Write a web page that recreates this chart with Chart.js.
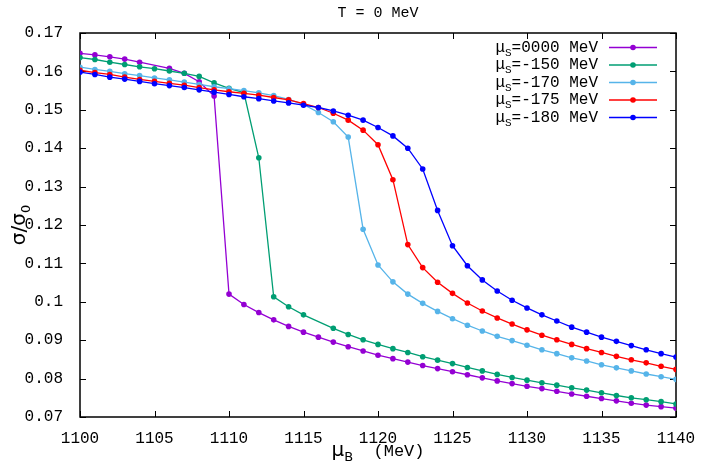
<!DOCTYPE html>
<html>
<head>
<meta charset="utf-8">
<script src="https://cdn.jsdelivr.net/npm/chart.js@4.4.1/dist/chart.umd.min.js"></script>
<style>
  html, body { margin: 0; padding: 0; background: #fff; }
  #wrap { width: 701px; height: 470px; }
</style>
</head>
<body>
<div id="wrap"><canvas id="myChart" width="701" height="470"></canvas></div>
<script>
// mu_B values (MeV)
const muB = [1100, 1101, 1102, 1103, 1104, 1105, 1106, 1107, 1108, 1109,
             1110, 1111, 1112, 1113, 1114, 1115, 1116, 1117, 1118, 1119,
             1120, 1121, 1122, 1123, 1124, 1125, 1126, 1127, 1128, 1129,
             1130, 1131, 1132, 1133, 1134, 1135, 1136, 1137, 1138, 1139, 1140];

// sigma/sigma0 for each mu_S (null = no point in the data)
const sigmaS0 = [0.1647, 0.1643, 0.1638, 0.1632, 0.1624, null, 0.1608, 0.1595, 0.1573, 0.1536,
                 0.1020, 0.0993, 0.0972, 0.0953, 0.0936, 0.0921, 0.0908, 0.0895, 0.0883, 0.0872,
                 0.0861, 0.0852, 0.0843, 0.0834, 0.0826, 0.0818, 0.0810, 0.0802, 0.0794, 0.0787,
                 0.0780, 0.0774, 0.0767, 0.0760, 0.0754, 0.0748, 0.0742, 0.0736, 0.0731, 0.0727, 0.0723];
const sigmaS150 = [0.1636, 0.1631, 0.1624, 0.1618, 0.1612, 0.1607, 0.1601, 0.1595, 0.1587, 0.1570,
                   0.1556, 0.1545, 0.1375, 0.1013, 0.0987, 0.0966, null, 0.0931, 0.0915, 0.0901,
                   0.0889, 0.0878, 0.0868, 0.0857, 0.0848, 0.0839, 0.0829, 0.0820, 0.0811, 0.0803,
                   0.0796, 0.0789, 0.0783, 0.0776, 0.0770, 0.0763, 0.0756, 0.0750, 0.0745, 0.0740, 0.0734];
const sigmaS170 = [0.1611, 0.1605, 0.1600, 0.1594, 0.1589, 0.1583, 0.1578, 0.1572, 0.1566, 0.1560,
                   0.1555, 0.1550, 0.1544, 0.1537, 0.1527, 0.1514, 0.1493, 0.1469, 0.1429, 0.1189,
                   0.1096, 0.1052, 0.1020, 0.0996, 0.0975, 0.0956, 0.0939, 0.0924, 0.0910, 0.0899,
                   0.0887, 0.0875, 0.0865, 0.0854, 0.0846, 0.0836, 0.0828, 0.0820, 0.0812, 0.0805, 0.0798];
const sigmaS175 = [0.1603, 0.1597, 0.1592, 0.1585, 0.1579, 0.1574, 0.1569, 0.1564, 0.1558, 0.1552,
                   0.1547, 0.1543, 0.1538, 0.1532, 0.1526, 0.1516, 0.1506, 0.1491, 0.1473, 0.1447,
                   0.1409, 0.1318, 0.1149, 0.1089, 0.1051, 0.1022, 0.0997, 0.0976, 0.0958, 0.0942,
                   0.0927, 0.0913, 0.0901, 0.0889, 0.0878, 0.0868, 0.0858, 0.0849, 0.0841, 0.0832, 0.0824];
const sigmaS180 = [0.1598, 0.1592, 0.1585, 0.1580, 0.1574, 0.1568, 0.1563, 0.1558, 0.1552, 0.1546,
                   0.1540, 0.1534, 0.1529, 0.1523, 0.1518, 0.1512, 0.1506, 0.1497, 0.1486, 0.1473,
                   0.1454, 0.1432, 0.1400, 0.1346, 0.1238, 0.1146, 0.1094, 0.1057, 0.1028, 0.1004,
                   0.0984, 0.0966, 0.0950, 0.0934, 0.0921, 0.0908, 0.0897, 0.0886, 0.0875, 0.0865, 0.0856];

const muSLabels = ['0000', '-150', '-170', '-175', '-180'];
const seriesData = [sigmaS0, sigmaS150, sigmaS170, sigmaS175, sigmaS180];
const seriesColors = ['#9400d3', '#009e73', '#56b4e9', '#ff0000', '#0000ff'];

const chartTitle = 'T = 0 MeV';
const monoFont = '"Liberation Mono", "DejaVu Sans Mono", monospace';
const sansFont = '"DejaVu Sans", "Liberation Sans", sans-serif';

// frame, inward ticks, title, axis titles and legend (gnuplot look)
const gnuplotDecor = {
    id: 'gnuplotDecor',
    beforeDatasetsDraw(chart) {
        const { ctx, chartArea: a, scales: { x, y } } = chart;
        ctx.save();
        ctx.strokeStyle = '#000';
        ctx.lineWidth = 1;
        ctx.beginPath();
        x.ticks.forEach(t => {
            const px = Math.round(x.getPixelForValue(t.value)) + 0.5;
            ctx.moveTo(px, a.bottom); ctx.lineTo(px, a.bottom - 6);
            ctx.moveTo(px, a.top); ctx.lineTo(px, a.top + 6);
        });
        y.ticks.forEach(t => {
            const py = Math.round(y.getPixelForValue(t.value)) + 0.5;
            ctx.moveTo(a.left, py); ctx.lineTo(a.left + 6, py);
            ctx.moveTo(a.right, py); ctx.lineTo(a.right - 6, py);
        });
        ctx.stroke();
        ctx.lineWidth = 1.5;
        ctx.strokeRect(a.left, a.top, a.right - a.left, a.bottom - a.top);
        ctx.restore();
    },
    afterDraw(chart) {
        const { ctx, chartArea: a } = chart;
        const cx = (a.left + a.right) / 2;
        const cy = (a.top + a.bottom) / 2;
        ctx.save();
        ctx.fillStyle = '#000';
        ctx.textBaseline = 'alphabetic';

        // title
        ctx.font = '15px ' + monoFont;
        ctx.textAlign = 'center';
        ctx.fillText(chartTitle, cx, 17);

        // x axis title: mu_B (MeV)
        ctx.textAlign = 'left';
        ctx.font = '20px ' + sansFont;
        const wMu = ctx.measureText('μ').width;
        ctx.font = '13px ' + sansFont;
        const wB = ctx.measureText('B').width;
        ctx.font = '17px ' + monoFont;
        const wRest = ctx.measureText('  (MeV)').width;
        let xs = cx - (wMu + wB + wRest) / 2;
        ctx.font = '20px ' + sansFont;
        ctx.fillText('μ', xs, 456);
        ctx.font = '13px ' + sansFont;
        ctx.fillText('B', xs + wMu, 461);
        ctx.font = '17px ' + monoFont;
        ctx.fillText('  (MeV)', xs + wMu + wB, 456);

        // y axis title: sigma/sigma_0
        ctx.save();
        ctx.translate(25, cy);
        ctx.rotate(-Math.PI / 2);
        ctx.font = '20px ' + sansFont;
        const wSig = ctx.measureText('σ/σ').width;
        ctx.font = '13px ' + sansFont;
        const w0 = ctx.measureText('0').width;
        let ys = -(wSig + w0) / 2;
        ctx.font = '20px ' + sansFont;
        ctx.fillText('σ/σ', ys, 0);
        ctx.font = '13px ' + sansFont;
        ctx.fillText('0', ys + wSig, 5);
        ctx.restore();

        // legend
        const rowY = [47.5, 65, 82.5, 100, 117.5];
        muSLabels.forEach((lab, i) => {
            const yy = rowY[i];
            const rest = '=' + lab + ' MeV';
            ctx.font = '16px ' + monoFont;
            const wm = ctx.measureText('μ').width;
            const wr = ctx.measureText(rest).width;
            ctx.font = '11px ' + monoFont;
            const ws = ctx.measureText('S').width;
            let x0 = 598 - (wm + ws + wr);
            ctx.fillStyle = '#000';
            ctx.font = '16px ' + monoFont;
            ctx.fillText('μ', x0, yy + 4);
            ctx.font = '11px ' + monoFont;
            ctx.fillText('S', x0 + wm, yy + 8);
            ctx.font = '16px ' + monoFont;
            ctx.fillText(rest, x0 + wm + ws, yy + 4);

            ctx.strokeStyle = seriesColors[i];
            ctx.lineWidth = 1.3;
            ctx.beginPath();
            ctx.moveTo(609, yy); ctx.lineTo(657, yy);
            ctx.stroke();
            ctx.fillStyle = seriesColors[i];
            ctx.beginPath();
            ctx.arc(633, yy, 2.8, 0, Math.PI * 2);
            ctx.fill();
        });
        ctx.restore();
    }
};

const datasets = seriesData.map((arr, i) => ({
    label: 'μS=' + muSLabels[i] + ' MeV',
    data: muB.map((m, j) => ({ x: m, y: arr[j] })),
    borderColor: seriesColors[i],
    backgroundColor: seriesColors[i],
    borderWidth: 1.3,
    pointRadius: 2.8,
    pointBorderWidth: 0,
    pointHoverRadius: 2.8,
    tension: 0,
    spanGaps: true,
    order: 4 - i
}));

const ctx = document.getElementById('myChart').getContext('2d');
new Chart(ctx, {
    type: 'line',
    data: { datasets: datasets },
    options: {
        responsive: false,
        devicePixelRatio: 1,
        animation: false,
        layout: { padding: { left: 0, top: 33, right: 25, bottom: 0 } },
        plugins: {
            legend: { display: false },
            tooltip: { enabled: false },
            title: { display: false }
        },
        scales: {
            x: {
                type: 'linear',
                min: 1100,
                max: 1140,
                grid: { display: false },
                border: { display: false },
                ticks: {
                    stepSize: 5,
                    color: '#000',
                    padding: 4,
                    maxRotation: 0,
                    font: { family: monoFont, size: 16 },
                    callback: v => String(v)
                },
                afterFit: s => { s.height = 53; }
            },
            y: {
                type: 'linear',
                min: 0.07,
                max: 0.17,
                grid: { display: false },
                border: { display: false },
                ticks: {
                    stepSize: 0.01,
                    color: '#000',
                    padding: 9,
                    font: { family: monoFont, size: 16 },
                    callback: v => String(Number(v.toFixed(2)))
                },
                afterFit: s => { s.width = 80; }
            }
        }
    },
    plugins: [gnuplotDecor]
});
</script>
</body>
</html>
